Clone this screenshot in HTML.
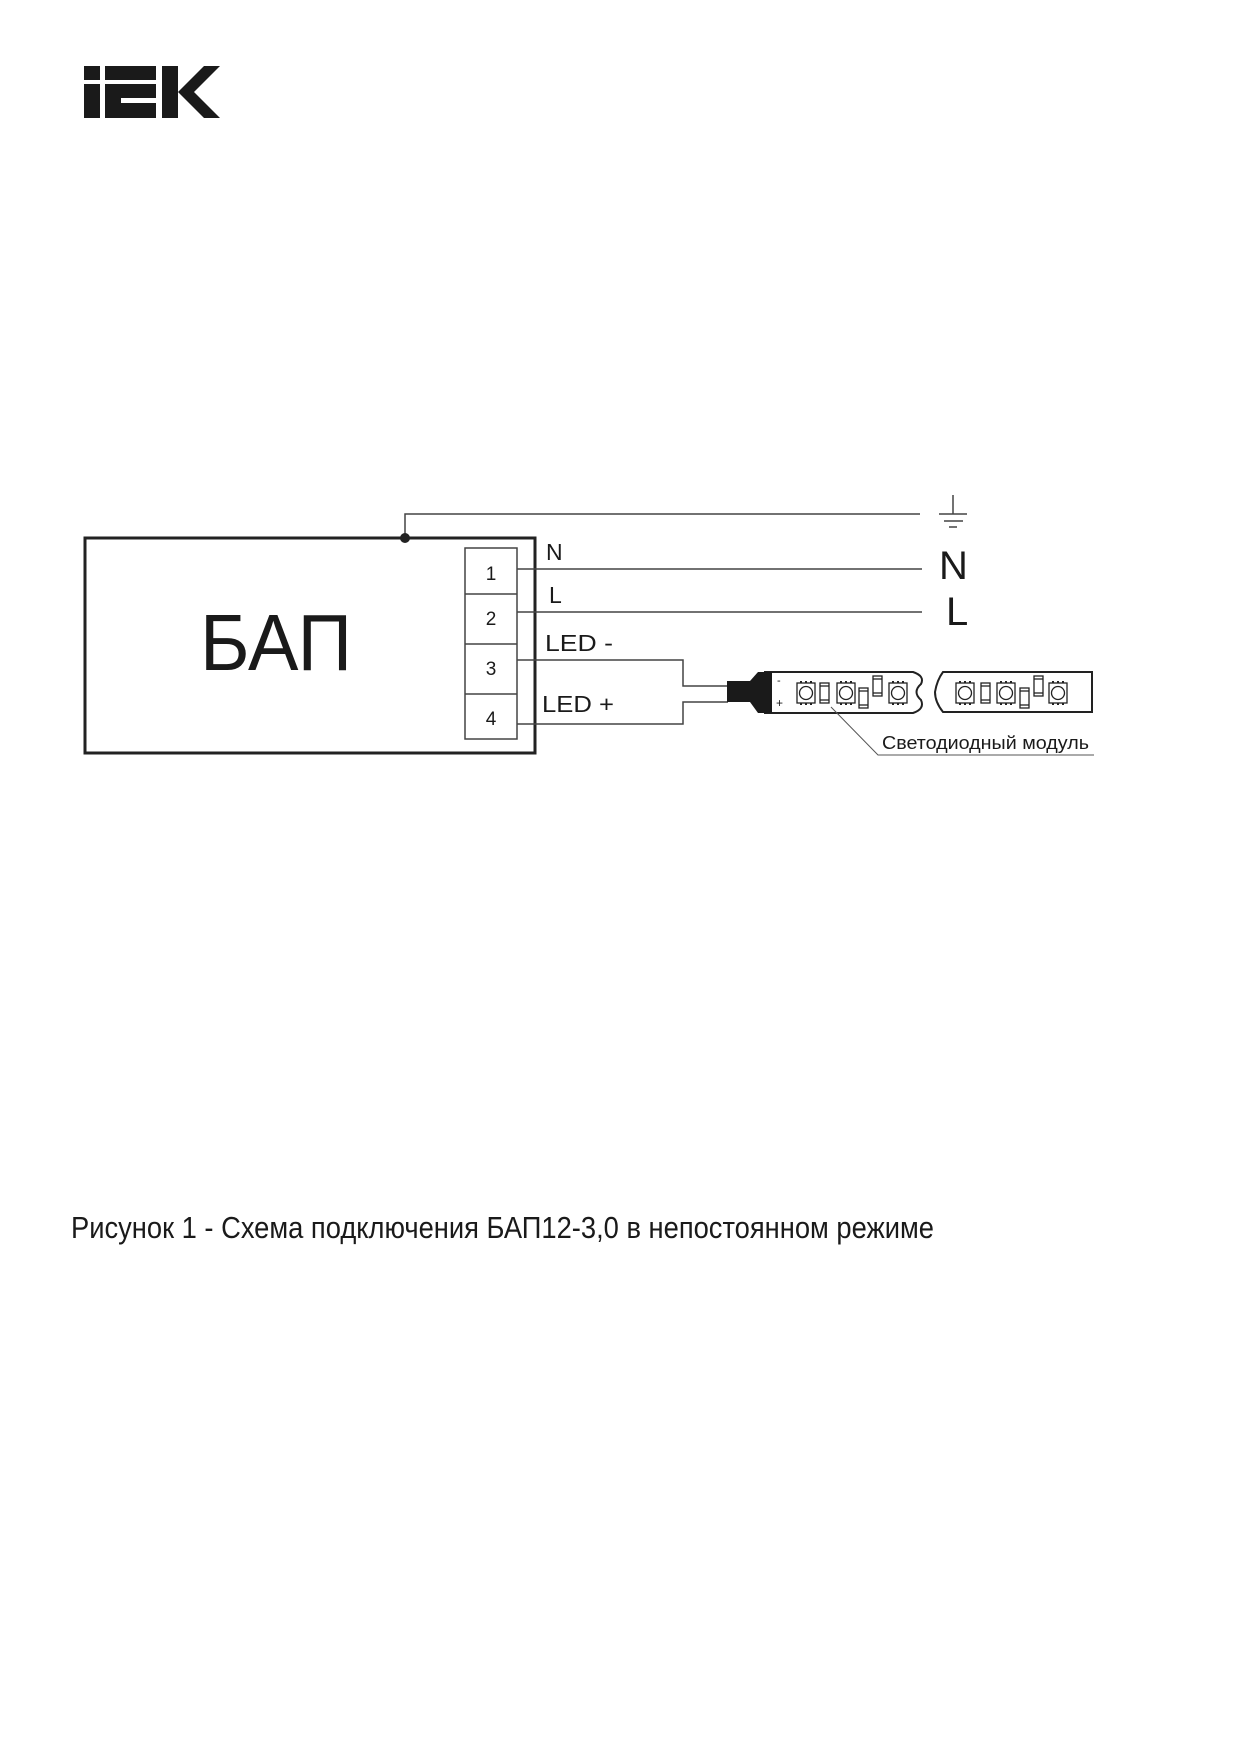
<!DOCTYPE html>
<html><head><meta charset="utf-8"><style>
html,body{margin:0;padding:0;background:#fff;}
svg{display:block;}
text{font-family:"Liberation Sans",sans-serif;fill:#1a1a1a;}
</style></head><body>
<svg width="1234" height="1747" viewBox="0 0 1234 1747" xmlns="http://www.w3.org/2000/svg">
<defs>
<g id="led">
 <rect x="0" y="0" width="18" height="20" fill="#fff" stroke="#222" stroke-width="1.3"/>
 <circle cx="9" cy="10" r="6.5" fill="none" stroke="#222" stroke-width="1.3"/>
 <rect x="3" y="-2" width="2" height="2" fill="#222"/><rect x="8" y="-2" width="2" height="2" fill="#222"/><rect x="13" y="-2" width="2" height="2" fill="#222"/>
 <rect x="3" y="20" width="2" height="2" fill="#222"/><rect x="8" y="20" width="2" height="2" fill="#222"/><rect x="13" y="20" width="2" height="2" fill="#222"/>
</g>
<g id="res">
 <rect x="0" y="0" width="9" height="20" fill="#fff" stroke="#222" stroke-width="1.3"/>
 <line x1="0" y1="3" x2="9" y2="3" stroke="#222" stroke-width="1.3"/>
 <line x1="0" y1="17" x2="9" y2="17" stroke="#222" stroke-width="1.3"/>
</g>
</defs>
<!-- logo -->
<g fill="#1a1a1a">
 <rect x="84" y="66" width="16" height="14"/>
 <rect x="84" y="84" width="16" height="34"/>
 <rect x="105" y="66" width="51" height="14"/>
 <rect x="105" y="84" width="51" height="34"/>
 <rect x="121" y="98" width="35" height="5" fill="#fff"/>
 <rect x="162" y="66" width="16" height="52"/>
 <polygon points="178,92 204,66 220,66 194,92 220,118 204,118"/>
</g>
<!-- main box -->
<rect x="85" y="538" width="450" height="215" fill="none" stroke="#222" stroke-width="3"/>
<text x="200" y="670" font-size="80" textLength="152" lengthAdjust="spacingAndGlyphs">БАП</text>
<!-- terminal block -->
<g stroke="#444" stroke-width="1.5" fill="none">
 <rect x="465" y="548" width="52" height="191"/>
 <line x1="465" y1="594" x2="517" y2="594"/>
 <line x1="465" y1="644" x2="517" y2="644"/>
 <line x1="465" y1="694" x2="517" y2="694"/>
</g>
<g font-size="19" text-anchor="middle">
 <text x="491" y="580">1</text><text x="491" y="625">2</text><text x="491" y="675">3</text><text x="491" y="725">4</text>
</g>
<!-- wires -->
<g stroke="#444" stroke-width="1.5" fill="none">
 <polyline points="405,538 405,514 920,514"/>
 <line x1="517" y1="569" x2="922" y2="569"/>
 <line x1="517" y1="612" x2="922" y2="612"/>
 <polyline points="517,660 683,660 683,686 728,686"/>
 <polyline points="517,724 683,724 683,702 728,702"/>
 <line x1="953" y1="495" x2="953" y2="514"/>
 <line x1="939" y1="514" x2="967" y2="514"/>
 <line x1="944" y1="521" x2="963" y2="521"/>
 <line x1="949" y1="527" x2="957" y2="527"/>
</g>
<circle cx="405" cy="538" r="5" fill="#222"/>
<g font-size="23">
 <text x="546" y="560">N</text>
 <text x="549" y="603">L</text>
 <text x="545" y="651" textLength="68" lengthAdjust="spacingAndGlyphs">LED -</text>
 <text x="542" y="712" textLength="72" lengthAdjust="spacingAndGlyphs">LED +</text>
</g>
<text x="939" y="579" font-size="40">N</text>
<text x="946" y="625" font-size="40">L</text>
<!-- connector -->
<rect x="727" y="681" width="24" height="21" fill="#1a1a1a"/>
<path d="M750,681 L758,672 L774,672 L774,713 L758,713 L750,702 Z" fill="#1a1a1a"/>
<!-- strip 1 -->
<path d="M765,672 L913,672 Q925,676 921,684 Q912,692 921,700 Q925,709 913,713 L765,713 Z" fill="#fff" stroke="#222" stroke-width="2"/>
<rect x="758" y="672" width="14" height="41" fill="#1a1a1a"/>
<text x="777" y="684" font-size="11">-</text>
<text x="776" y="707" font-size="12">+</text>
<use href="#led" x="797" y="683"/>
<use href="#res" x="820" y="683"/>
<use href="#led" x="837" y="683"/>
<use href="#res" x="859" y="688"/>
<use href="#res" x="873" y="676"/>
<use href="#led" x="889" y="683"/>
<!-- strip 2 -->
<path d="M943,672 L1092,672 L1092,712 L943,712 Q935,702 935,692 Q937,680 943,672 Z" fill="#fff" stroke="#222" stroke-width="2"/>
<use href="#led" x="956" y="683"/>
<use href="#res" x="981" y="683"/>
<use href="#led" x="997" y="683"/>
<use href="#res" x="1020" y="688"/>
<use href="#res" x="1034" y="676"/>
<use href="#led" x="1049" y="683"/>
<!-- leader -->
<polyline points="831,707 878,755 1094,755" fill="none" stroke="#555" stroke-width="1"/>
<text x="882" y="749" font-size="18" textLength="207" lengthAdjust="spacingAndGlyphs">Светодиодный модуль</text>
<!-- caption -->
<text x="71" y="1238" font-size="31" textLength="863" lengthAdjust="spacingAndGlyphs">Рисунок 1 - Схема подключения БАП12-3,0 в непостоянном режиме</text>
</svg>
</body></html>
